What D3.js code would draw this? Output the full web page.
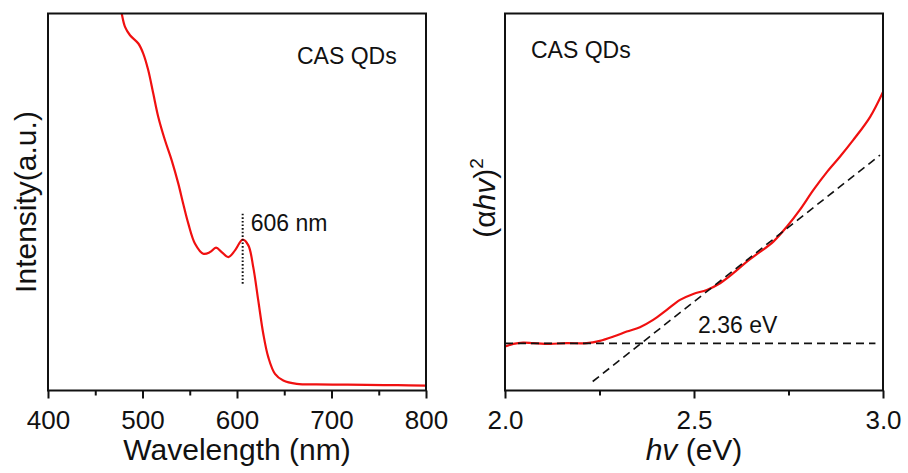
<!DOCTYPE html>
<html>
<head>
<meta charset="utf-8">
<script src="https://cdn.jsdelivr.net/npm/d3@7/dist/d3.min.js"></script>
<style>
  body { margin: 0; background: #fff; }
  text { font-family: "Liberation Sans", Arial, Helvetica, sans-serif; fill: #111; }
</style>
</head>
<body>
<svg id="chart" width="908" height="473"></svg>
<script>
// Photoluminescence spectrum (left panel)
const wavelength = [476, 478, 481.5, 486.8, 495.6, 500.8, 506.1, 511.4, 516.7, 523.8, 530.9, 537.9, 543, 548.5,
  555.6, 564.3, 571.4, 577.8, 583.8, 590.8, 597.9, 606, 612, 617.2, 622.5, 627.8, 633.1, 640.2, 649, 663.2,
  684, 710, 737, 770, 800];
const intensity = [1.03, 1.0, 0.9645, 0.9424, 0.9204, 0.8938, 0.8495, 0.7876, 0.7255, 0.6637, 0.6106, 0.5487, 0.496, 0.4425,
  0.3894, 0.3629, 0.3671, 0.3788, 0.3671, 0.3539, 0.3717, 0.4000, 0.3849, 0.3273, 0.2389, 0.1505, 0.0884, 0.0443, 0.0265, 0.0178,
  0.016, 0.0155, 0.015, 0.014, 0.013];
const peakWavelength = 606;
const peakMarkerRange = [0.283, 0.469];
const wavelengthTicks = [400, 500, 600, 700, 800];
const wavelengthMinorTicks = [450, 550, 650, 750];

// Tauc plot (right panel)
const energy = [2.0, 2.022, 2.048, 2.075, 2.119, 2.163, 2.216, 2.251, 2.287, 2.322, 2.357, 2.392, 2.428, 2.463,
  2.498, 2.534, 2.569, 2.604, 2.640, 2.670, 2.710, 2.746, 2.780, 2.816, 2.852, 2.886, 2.921, 2.966, 3.0];
const tauc = [0.1166, 0.1237, 0.1272, 0.1256, 0.1237, 0.1256, 0.1256, 0.1317, 0.1431, 0.1563, 0.1680, 0.1873, 0.2138, 0.2403,
  0.2562, 0.2668, 0.2846, 0.3111, 0.3418, 0.3641, 0.395, 0.435, 0.479, 0.532, 0.580, 0.620, 0.664, 0.726, 0.792];
const bandGap = 2.36;
const baselineLevel = 0.125;
const tangentSlope = 0.79;
const baselineSpan = [2.0, 2.98];
const tangentSpan = [2.232, 2.992];
const energyTicks = [2.0, 2.5, 3.0];
const energyMinorTicks = [2.25, 2.75];

const svg = d3.select("#chart");
const frameTop = 13.5, frameBottom = 390.5;

function panel(x0, x1, xDomain, id) {
  const g = svg.append("g");
  const x = d3.scaleLinear().domain(xDomain).range([x0, x1]);
  const y = d3.scaleLinear().domain([0, 1]).range([frameBottom, frameTop]);
  svg.append("clipPath").attr("id", id).append("rect")
    .attr("x", x0).attr("y", frameTop).attr("width", x1 - x0).attr("height", frameBottom - frameTop);
  return { g, x, y, x0, x1 };
}

function frameAndAxis(p, major, minor, fmt) {
  p.g.append("g").attr("transform", `translate(0,${frameBottom})`)
    .call(d3.axisBottom(p.x).tickValues(minor).tickSize(5).tickFormat(""))
    .call(a => a.select(".domain").remove())
    .call(a => a.selectAll("line").attr("stroke", "#111").attr("stroke-width", 2));
  const ax = p.g.append("g").attr("transform", `translate(0,${frameBottom})`)
    .call(d3.axisBottom(p.x).tickValues(major).tickSize(8).tickFormat(fmt))
    .call(a => a.select(".domain").remove())
    .call(a => a.selectAll("line").attr("stroke", "#111").attr("stroke-width", 2));
  ax.selectAll("text").attr("y", 38).attr("dy", 0)
    .style("font-size", "26px").style("font-family", "'Liberation Sans', Arial, sans-serif").attr("fill", "#111");
  p.g.append("rect").attr("x", p.x0).attr("y", frameTop)
    .attr("width", p.x1 - p.x0).attr("height", frameBottom - frameTop)
    .attr("fill", "none").attr("stroke", "#111").attr("stroke-width", 2);
}

// ---- Left: PL spectrum ----
const L = panel(48, 426, [400, 800], "clipL");
L.g.append("path")
  .datum(wavelength.map((w, i) => [w, intensity[i]]))
  .attr("clip-path", "url(#clipL)")
  .attr("fill", "none").attr("stroke", "#f01010").attr("stroke-width", 2.2)
  .attr("d", d3.line().x(d => L.x(d[0])).y(d => L.y(d[1])).curve(d3.curveCatmullRom.alpha(0.5)));
L.g.append("line")
  .attr("x1", L.x(peakWavelength)).attr("x2", L.x(peakWavelength))
  .attr("y1", L.y(peakMarkerRange[1])).attr("y2", L.y(peakMarkerRange[0]))
  .attr("stroke", "#111").attr("stroke-width", 2).attr("stroke-dasharray", "1.6,2");
L.g.append("text").attr("x", L.x(peakWavelength) + 8).attr("y", 231)
  .style("font-size", "23px").text(`${peakWavelength} nm`);
L.g.append("text").attr("x", 297).attr("y", 64).style("font-size", "23px").text("CAS QDs");
frameAndAxis(L, wavelengthTicks, wavelengthMinorTicks, d3.format("d"));
L.g.append("text").attr("x", (L.x0 + L.x1) / 2).attr("y", 460).attr("text-anchor", "middle")
  .style("font-size", "30px").text("Wavelength (nm)");
L.g.append("text").attr("transform", `translate(36,${(frameTop + frameBottom) / 2}) rotate(-90)`)
  .attr("text-anchor", "middle").style("font-size", "30px").text("Intensity(a.u.)");

// ---- Right: Tauc plot ----
const R = panel(505, 883, [2.0, 3.0], "clipR");
R.g.append("path")
  .datum(energy.map((e, i) => [e, tauc[i]]))
  .attr("clip-path", "url(#clipR)")
  .attr("fill", "none").attr("stroke", "#f01010").attr("stroke-width", 2.2)
  .attr("d", d3.line().x(d => R.x(d[0])).y(d => R.y(d[1])).curve(d3.curveCatmullRom.alpha(0.5)));
const tangentAt = e => baselineLevel + tangentSlope * (e - bandGap);
R.g.append("line")
  .attr("x1", R.x(baselineSpan[0])).attr("x2", R.x(baselineSpan[1]))
  .attr("y1", R.y(baselineLevel)).attr("y2", R.y(baselineLevel))
  .attr("stroke", "#111").attr("stroke-width", 1.6).attr("stroke-dasharray", "8,5");
R.g.append("line")
  .attr("x1", R.x(tangentSpan[0])).attr("x2", R.x(tangentSpan[1]))
  .attr("y1", R.y(tangentAt(tangentSpan[0]))).attr("y2", R.y(tangentAt(tangentSpan[1])))
  .attr("stroke", "#111").attr("stroke-width", 1.6).attr("stroke-dasharray", "8,5");
R.g.append("text").attr("x", 698).attr("y", 333).style("font-size", "23px").text(`${bandGap.toFixed(2)} eV`);
R.g.append("text").attr("x", 531).attr("y", 58).style("font-size", "23px").text("CAS QDs");
frameAndAxis(R, energyTicks, energyMinorTicks, d3.format(".1f"));
const xt = R.g.append("text").attr("x", (R.x0 + R.x1) / 2).attr("y", 460).attr("text-anchor", "middle")
  .style("font-size", "30px");
xt.append("tspan").style("font-style", "italic").text("hv");
xt.append("tspan").text(" (eV)");
const yt = R.g.append("text").attr("transform", `translate(495,${(frameTop + frameBottom) / 2 - 4}) rotate(-90)`)
  .attr("text-anchor", "middle").style("font-size", "30px");
yt.append("tspan").text("(α");
yt.append("tspan").style("font-style", "italic").text("hv");
yt.append("tspan").text(")");
yt.append("tspan").attr("dy", -12).style("font-size", "19px").text("2");
</script>
</body>
</html>
